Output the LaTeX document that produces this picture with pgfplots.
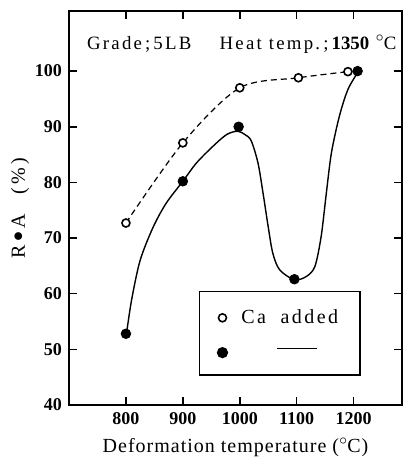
\documentclass[border=0pt]{standalone}
\usepackage{fontspec}
\setmainfont{Liberation Serif}
\newfontfamily\spaced[LetterSpace=12]{Liberation Serif}
\newfontfamily\slight[LetterSpace=5]{Liberation Serif}
\usepackage{pgfplots}
\pgfplotsset{compat=1.18}

\begin{document}
\begin{tikzpicture}
\begin{axis}[name=ax, scale only axis, width=166.5pt, height=197pt,
  xmin=700, xmax=1285, ymin=40, ymax=110.8,
  xtick={800,900,1000,1100,1200}, ytick={40,50,...,100},
  tick align=inside, major tick length=4pt,
  axis line style={line width=1pt},
  every tick/.style={line width=0.8pt,black},
  tick label style={font=\fontsize{9}{10}\selectfont\bfseries},
  /pgf/number format/assume math mode=true,
  /pgf/number format/set thousands separator={},
  xlabel={\slight Deformation temperature ($^{\circ}$\kern-0.05em C)},
  xlabel style={font=\fontsize{10}{12}\selectfont},
  ylabel={R\,\raisebox{0.15ex}{$\bullet$}\,A\quad(\,\%\,)},
  ylabel style={font=\fontsize{10}{12}\selectfont, at={(axis description cs:-0.147,0.5)}, anchor=center},
  legend style={at={(0.39,0.074)}, anchor=south west, draw=black, line width=0.8pt,
    font=\fontsize{10}{12}\selectfont, inner xsep=9pt, inner ysep=7pt,
    row sep=7pt, cells={anchor=west}},
  legend cell align=left]

% dashed curve, Ca added
\addplot[smooth, dashed, dash pattern=on 3pt off 2pt, line width=0.6pt, forget plot]
  coordinates {(800,72.7) (900,87.1) (1000,97) (1103,98.8) (1190,99.9)};

% solid curve, without Ca
\addplot[smooth, line width=0.7pt, forget plot]
  coordinates {(801,52.8) (810,58.9) (825,66) (848,72) (871,76.3) (900,80.2)
    (924,83.5) (953,86.5) (977,88.6) (996,89.2) (1009,88.6) (1020,87.5)
    (1032,83.5) (1041,78) (1050,72) (1058,67.3) (1070,64.3) (1096,62.5)
    (1117,63.1) (1132,64.9) (1143,70.3) (1152,78) (1161,85.3) (1175,91.9)
    (1190,96.7) (1207,99.7)};

\addplot[only marks, mark=*, mark size=2pt, mark options={fill=white, draw=black, line width=0.8pt}]
  coordinates {(800,72.7) (900,87.1) (1000,97) (1103,98.8) (1190,99.9)};
\addlegendentry{\hspace{5pt}\spaced Ca\ \ added\hspace{14pt}}

\addplot[only marks, mark=*, mark size=2.4pt, black]
  coordinates {(800,52.8) (900,80.2) (998,90) (1096,62.6) (1207,100)};
\addlegendentry{\hspace{23pt}\rule[0.5ex]{20pt}{0.6pt}}

\node[anchor=west, font=\fontsize{9.4}{10}\selectfont] at (rel axis cs:0.033,0.916)
  {{\spaced Grade\,;\,5LB}\quad\ \ {\spaced Heat temp.\,;\,}{\bfseries 1350}\,\,$^{\circ}$\kern-0.05em C};
\end{axis}
\pgfresetboundingbox
\path[use as bounding box] ([xshift=-34.5pt,yshift=-26.5pt]ax.south west)
  rectangle ([xshift=0.5pt,yshift=5.5pt]ax.north east);
\end{tikzpicture}
\end{document}
